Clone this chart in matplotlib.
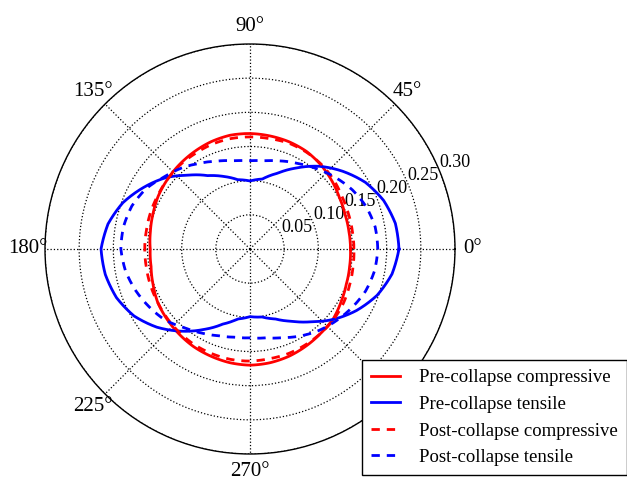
import numpy as np
import matplotlib.pyplot as plt

plt.rcParams['font.family'] = ['Liberation Serif', 'DejaVu Serif']

# stress magnitude vs. direction, read every 10 degrees
angles_deg = np.arange(0, 360, 10)

pre_comp = [0.147, 0.147, 0.148, 0.151, 0.156, 0.161, 0.165, 0.167, 0.168,
            0.169, 0.169, 0.167, 0.164, 0.161, 0.158, 0.155, 0.151, 0.148,
            0.146, 0.147, 0.151, 0.156, 0.159, 0.162, 0.165, 0.167, 0.169,
            0.170, 0.169, 0.167, 0.164, 0.161, 0.159, 0.154, 0.150, 0.148]

pre_tens = [0.218, 0.216, 0.208, 0.195, 0.177, 0.158, 0.137, 0.118, 0.104,
            0.0996, 0.103, 0.113, 0.124, 0.141, 0.162, 0.180, 0.198, 0.211,
            0.218, 0.215, 0.208, 0.196, 0.178, 0.157, 0.136, 0.117, 0.104,
            0.099, 0.101, 0.109, 0.122, 0.139, 0.160, 0.180, 0.198, 0.211]

post_comp = [0.152, 0.152, 0.153, 0.155, 0.159, 0.162, 0.164, 0.165, 0.164,
             0.164, 0.164, 0.163, 0.161, 0.160, 0.158, 0.156, 0.155, 0.154,
             0.154, 0.154, 0.155, 0.156, 0.158, 0.160, 0.162, 0.163, 0.164,
             0.164, 0.163, 0.163, 0.162, 0.161, 0.160, 0.158, 0.155, 0.153]

post_tens = [0.187, 0.186, 0.181, 0.173, 0.163, 0.153, 0.144, 0.137, 0.131,
             0.129, 0.131, 0.137, 0.145, 0.155, 0.164, 0.176, 0.184, 0.188,
             0.189, 0.185, 0.178, 0.170, 0.162, 0.150, 0.142, 0.135, 0.131,
             0.130, 0.132, 0.138, 0.147, 0.156, 0.164, 0.172, 0.180, 0.185]

r_ticks = [0.05, 0.10, 0.15, 0.20, 0.25, 0.30]
theta_ticks = [0, 45, 90, 135, 180, 225, 270, 315]


def closed(values):
    th = np.radians(np.append(angles_deg, 360))
    return th, np.append(values, values[0])


fig = plt.figure(figsize=(6.27, 4.79), dpi=100)
ax = fig.add_axes([45 / 627, 25 / 479, 410 / 627, 410 / 479], polar=True)

dash = (0, (3, 2.5))
ax.plot(*closed(pre_comp), color='red', lw=2, label='Pre-collapse compressive')
ax.plot(*closed(pre_tens), color='blue', lw=2, label='Pre-collapse tensile')
ax.plot(*closed(post_comp), color='red', lw=2, ls=dash,
        label='Post-collapse compressive')
ax.plot(*closed(post_tens), color='blue', lw=2, ls=dash,
        label='Post-collapse tensile')
# draw each segment as an arc in polar space instead of a straight chord
for line in ax.lines:
    line.get_path()._interpolation_steps = 20

ax.set_ylim(0, 0.30)
ax.set_yticks(r_ticks)
ax.set_yticklabels([f'{r:.2f}' for r in r_ticks])
ax.set_rlabel_position(22.5)
ax.set_xticks(np.radians(theta_ticks))
ax.set_xticklabels([f'{t}°' for t in theta_ticks])
ax.tick_params(axis='x', labelsize=15, pad=2)
ax.tick_params(axis='y', labelsize=13)
ax.grid(True, color='black', ls=':', lw=0.9)
ax.spines['polar'].set_linewidth(1)

leg = fig.legend(loc='upper left', bbox_to_anchor=(362 / 627, 1 - 360 / 479),
                 fontsize=13.5, fancybox=False, framealpha=1, edgecolor='black',
                 borderaxespad=0, borderpad=0.5, handlelength=1.5,
                 handletextpad=1.05, labelspacing=0.5)
leg.get_frame().set_linewidth(1)

fig.savefig('out.png', dpi=100)
